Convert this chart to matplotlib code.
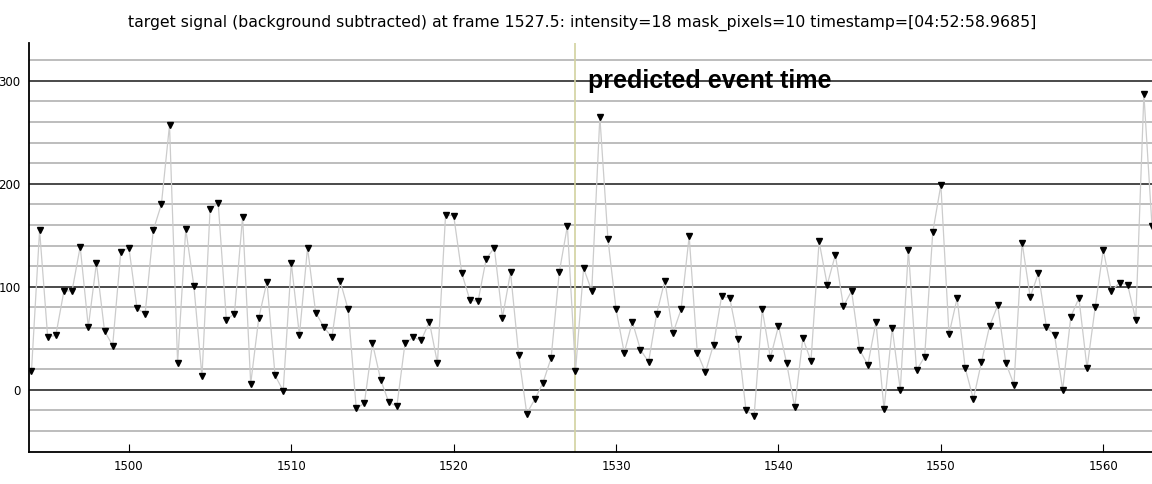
import numpy as np
import matplotlib
matplotlib.use('Agg')
import matplotlib.pyplot as plt
from matplotlib.ticker import MultipleLocator

# frames sampled every half frame, starting at 1494.0
frame_start = 1494.0
frame_step = 0.5
intensity = [
    18, 155, 51, 53, 96, 96, 139, 61, 123, 57, 43, 134,
    138, 79, 74, 155, 180, 257, 26, 156, 101, 13, 176, 181,
    68, 74, 168, 6, 70, 105, 14, -1,
    123, 53, 138, 75, 61, 51, 106, 78, -18, -13, 45, 10,
    -12, -16, 45, 51, 48, 66, 26, 170,
    169, 113, 87, 86, 127, 138, 70, 114, 34, -23, -9, 7,
    31, 114, 159, 18,
    118, 96, 265, 146,
    78, 36, 66, 39, 27, 74, 106, 55, 78, 149, 36, 17,
    44, 91, 89, 49, -20, -25, 78, 31,
    62, 26, -17, 50, 28, 144, 102, 131, 81, 96, 39, 24,
    66, -19, 60, 0, 136, 19, 32, 153,
    199, 54, 89, 21, -9, 27, 62, 82, 26, 5, 143, 90,
    113, 61, 53, 0, 71, 89, 21, 80,
    136, 96, 104, 102, 68, 287, 159,
]
frames = frame_start + frame_step * np.arange(len(intensity))

event_frame = 1527.5
event_label = 'predicted event time'
title = ('target signal (background subtracted) at frame 1527.5: '
         'intensity=18 mask_pixels=10 timestamp=[04:52:58.9685]')

fig = plt.figure(figsize=(11.52, 4.84), dpi=100)
ax = fig.add_axes([0.0252, 0.066, 0.9748, 0.845])

# horizontal grid, minor every 20, major every 100
for v in range(-40, 340, 20):
    if v % 100 == 0:
        ax.axhline(v, color='#2a2a2a', lw=1.2, zorder=1)
    else:
        ax.axhline(v, color='#b8b8b8', lw=1.3, zorder=1)

ax.axvline(event_frame, color='#d2d2a0', lw=1.2, zorder=2)
ax.plot(frames, intensity, color='#cccccc', lw=0.9, zorder=3)
ax.plot(frames, intensity, linestyle='none', marker='v', color='black',
        markersize=4.6, zorder=4)

ax.text(event_frame + 0.75, 300, event_label, fontsize=18, fontweight='bold',
        family='Liberation Sans', va='center', ha='left', zorder=5)

ax.set_xlim(1493.85, 1563.0)
ax.set_ylim(-60.4, 336.6)
ax.xaxis.set_major_locator(MultipleLocator(10))
ax.yaxis.set_major_locator(MultipleLocator(100))
ax.tick_params(axis='x', direction='in', length=6, labelsize=8.5, pad=6)
ax.tick_params(axis='y', length=0, labelsize=8.5, pad=6)
for s in ['top', 'right']:
    ax.spines[s].set_visible(False)
for s in ['left', 'bottom']:
    ax.spines[s].set_linewidth(1.3)
    ax.spines[s].set_zorder(6)

fig.text(0.5055, 0.953, title, ha='center', va='center', fontsize=11.3)

plt.savefig('out.png', dpi=100)
